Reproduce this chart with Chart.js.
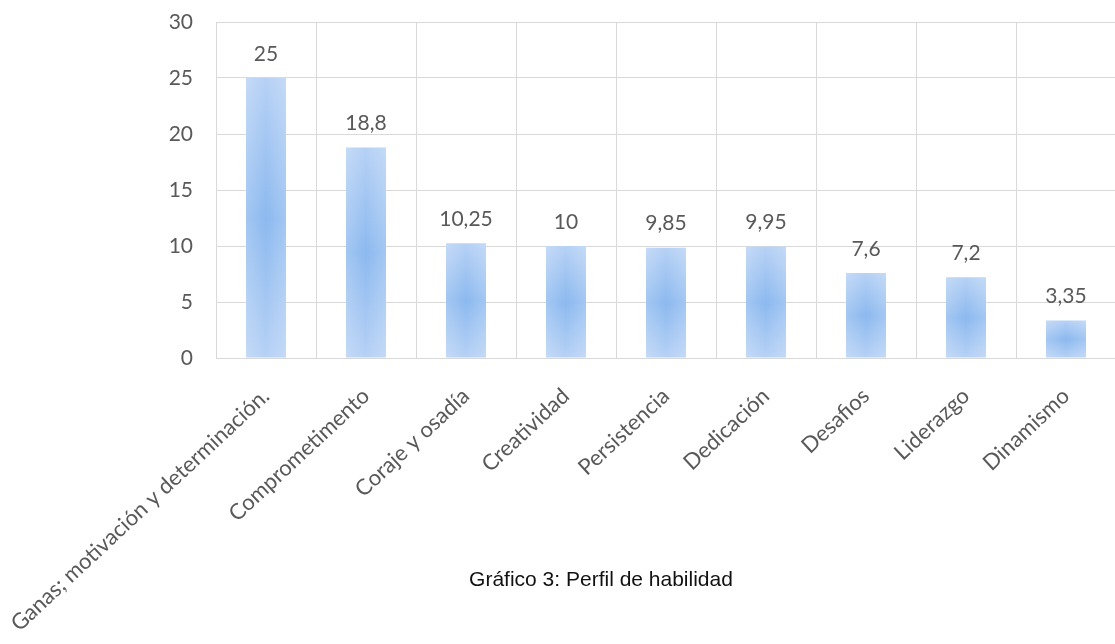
<!DOCTYPE html>
<html>
<head>
<meta charset="utf-8">
<script src="https://cdn.jsdelivr.net/npm/chart.js@4.4.1/dist/chart.umd.min.js"></script>
<style>
  html, body { margin: 0; padding: 0; background: #fff; overflow: hidden; }
  #wrap { position: relative; width: 1130px; height: 644px; }
  #caption {
    position: absolute; left: 0; width: 1202px; top: 567px; line-height: 24px;
    text-align: center; font-family: "Liberation Sans", Arial, sans-serif;
    font-size: 21px; color: #111;
  }
</style>
</head>
<body>
<div id="wrap">
  <canvas id="habilidad-chart" width="1130" height="644"></canvas>
  <div id="caption">Gráfico 3: Perfil de habilidad</div>
</div>
<script>
// Perfil de habilidad: categorías y valores
const categories = [
  "Ganas; motivación y determinación.",
  "Comprometimento",
  "Coraje y osadía",
  "Creatividad",
  "Persistencia",
  "Dedicación",
  "Desafios",
  "Liderazgo",
  "Dinamismo",
];
const values = [25, 18.8, 10.25, 10, 9.85, 9.95, 7.6, 7.2, 3.35];
const yTicks = [0, 5, 10, 15, 20, 25, 30];

const textColor = "#595959";
const gridColor = "#d9d9d9";
const numFont = { family: "Lato, 'Open Sans', sans-serif", size: 21 };
const catFont = { family: "Lato, 'Open Sans', sans-serif", size: 22 };

function fmt(v) {
  return String(v).replace(".", ",");
}

// vertical gradient per bar: pale at both ends, deeper blue in the middle
function barFill(ctx) {
  const chart = ctx.chart;
  const yScale = chart.scales.y;
  if (!yScale || ctx.dataIndex === undefined) return "#a6c8f2";
  const top = yScale.getPixelForValue(values[ctx.dataIndex]);
  const base = yScale.getPixelForValue(0);
  if (!isFinite(top) || !isFinite(base) || top === base) return "#a6c8f2";
  const g = chart.ctx.createLinearGradient(0, top, 0, base);
  g.addColorStop(0, "#b6d1f5");
  g.addColorStop(0.5, "#8cb9ef");
  g.addColorStop(1, "#b6d1f5");
  return g;
}

// lighten the left and right edges of each bar and write its value on top
const barDecor = {
  id: "barDecor",
  afterDatasetsDraw(chart) {
    const c = chart.ctx;
    const meta = chart.getDatasetMeta(0);
    meta.data.forEach((bar, i) => {
      const half = bar.width / 2;
      const left = bar.x - half;
      const g = c.createLinearGradient(left, 0, left + bar.width, 0);
      g.addColorStop(0, "rgba(255,255,255,0.2)");
      g.addColorStop(0.5, "rgba(255,255,255,0)");
      g.addColorStop(1, "rgba(255,255,255,0.2)");
      c.save();
      c.fillStyle = g;
      c.fillRect(left, bar.y, bar.width, bar.base - bar.y);
      c.fillStyle = textColor;
      c.font = numFont.size + "px " + numFont.family;
      c.textAlign = "center";
      c.textBaseline = "middle";
      c.fillText(fmt(values[i]), bar.x, bar.y - 24);
      c.restore();
    });
  },
};

// keep the plot box fixed: no extra room for overflowing tick labels
function noOverflow(scale) {
  scale.paddingTop = 0;
  scale.paddingBottom = 0;
  scale.paddingLeft = 0;
  scale.paddingRight = 0;
}

new Chart(document.getElementById("habilidad-chart"), {
  type: "bar",
  data: {
    labels: categories,
    datasets: [
      {
        data: values,
        backgroundColor: barFill,
        borderWidth: 0,
        barPercentage: 0.4,
        categoryPercentage: 1,
      },
    ],
  },
  options: {
    responsive: false,
    animation: false,
    layout: { padding: { top: 22, right: 14, left: 0, bottom: 0 } },
    plugins: {
      legend: { display: false },
      tooltip: { enabled: false },
    },
    scales: {
      x: {
        grid: { color: gridColor, drawTicks: false, offset: true },
        border: { color: gridColor },
        ticks: {
          color: textColor,
          font: catFont,
          minRotation: 43,
          maxRotation: 43,
          padding: 25,
          autoSkip: false,
        },
        afterFit(scale) {
          scale.height = 286;
          noOverflow(scale);
        },
      },
      y: {
        min: 0,
        max: 30,
        afterBuildTicks(scale) {
          scale.ticks = yTicks.map((v) => ({ value: v }));
        },
        grid: { color: gridColor, drawTicks: false },
        border: { display: false },
        ticks: {
          color: textColor,
          font: numFont,
          padding: 23,
        },
        afterFit(scale) {
          scale.width = 216;
          noOverflow(scale);
        },
      },
    },
  },
  plugins: [barDecor],
});
</script>
</body>
</html>
